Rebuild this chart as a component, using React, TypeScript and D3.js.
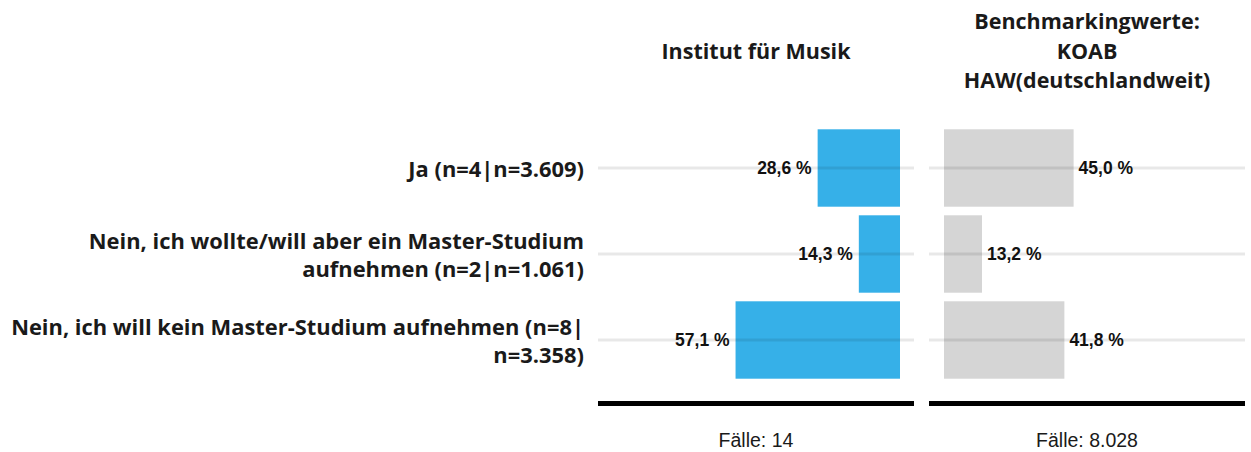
import React from "react";
import * as d3 from "d3";

const categories = [
  ["Ja (n=4|n=3.609)"],
  ["Nein, ich wollte/will aber ein Master-Studium", "aufnehmen (n=2|n=1.061)"],
  ["Nein, ich will kein Master-Studium aufnehmen (n=8|", "n=3.358)"],
];
const instituteValues = [28.6, 14.3, 57.1];
const benchmarkValues = [45.0, 13.2, 41.8];
const panelTitles = [["Institut für Musik"], ["Benchmarkingwerte:", "KOAB", "HAW(deutschlandweit)"]];
const caseCounts = ["Fälle: 14", "Fälle: 8.028"];

const W = 1251;
const H = 452;
const fmt = (v: number) => v.toFixed(1).replace(".", ",") + " %";
const catFont = "'Open Sans', 'Noto Sans', sans-serif";
const numFont = "'Liberation Sans', Arial, sans-serif";

export default function App() {
  const keys = categories.map((_, i) => String(i));
  const y = d3.scaleBand<string>().domain(keys).range([125, 383]).paddingInner(0.1).paddingOuter(0.05);
  const leftPanel = [598, 914];
  const rightPanel = [929, 1245];
  const xLeft = d3.scaleLinear().domain([0, 100]).range([900, 612]);
  const xRight = d3.scaleLinear().domain([0, 100]).range([944, 1232]);
  const bw = y.bandwidth();

  return (
    <div style={{ position: "absolute", left: 0, top: 0 }}>
      <svg width={W} height={H} style={{ display: "block" }}>
        <rect width={W} height={H} fill="#fff" />
        {panelTitles.map((lines, p) => {
          const cx = p === 0 ? (leftPanel[0] + leftPanel[1]) / 2 : (rightPanel[0] + rightPanel[1]) / 2;
          const startY = p === 0 ? 50 : 20.5;
          return lines.map((t, j) => (
            <text key={`t${p}${j}`} x={cx} y={startY + j * 29.5} textAnchor="middle" dominantBaseline="central"
              fontFamily={catFont} fontWeight="bold" fontSize={21.5} fill="#1a1a1a">{t}</text>
          ));
        })}
        {categories.map((lines, i) => {
          const cy = (y(String(i)) as number) + bw / 2;
          const n = lines.length;
          return lines.map((t, j) => (
            <text key={`c${i}${j}`} x={584} y={cy + (j - (n - 1) / 2) * 28} textAnchor="end" dominantBaseline="central"
              fontFamily={catFont} fontWeight="bold" fontSize={21.9} fill="#1a1a1a">{t}</text>
          ));
        })}
        {instituteValues.map((v, i) => (
          <rect key={`lb${i}`} x={xLeft(v)} y={y(String(i))} width={xLeft(0) - xLeft(v)} height={bw} fill="#36b0e8" />
        ))}
        {benchmarkValues.map((v, i) => (
          <rect key={`rb${i}`} x={xRight(0)} y={y(String(i))} width={xRight(v) - xRight(0)} height={bw} fill="#d5d5d5" />
        ))}
        {keys.map((k) => {
          const cy = (y(k) as number) + bw / 2;
          return (
            <g key={`g${k}`}>
              <line x1={leftPanel[0]} x2={leftPanel[1]} y1={cy} y2={cy} stroke="#000" strokeOpacity={0.09} strokeWidth={3} />
              <line x1={rightPanel[0]} x2={rightPanel[1]} y1={cy} y2={cy} stroke="#000" strokeOpacity={0.09} strokeWidth={3} />
            </g>
          );
        })}
        {instituteValues.map((v, i) => (
          <text key={`lv${i}`} x={xLeft(v) - 6} y={(y(String(i)) as number) + bw / 2} textAnchor="end" dominantBaseline="central"
            fontFamily={numFont} fontWeight="bold" fontSize={17.5} fill="#111">{fmt(v)}</text>
        ))}
        {benchmarkValues.map((v, i) => (
          <text key={`rv${i}`} x={xRight(v) + 5} y={(y(String(i)) as number) + bw / 2} textAnchor="start" dominantBaseline="central"
            fontFamily={numFont} fontWeight="bold" fontSize={17.5} fill="#111">{fmt(v)}</text>
        ))}
        <line x1={leftPanel[0]} x2={leftPanel[1]} y1={403.5} y2={403.5} stroke="#000" strokeWidth={5} />
        <line x1={rightPanel[0]} x2={rightPanel[1]} y1={403.5} y2={403.5} stroke="#000" strokeWidth={5} />
        {caseCounts.map((t, p) => {
          const cx = p === 0 ? (leftPanel[0] + leftPanel[1]) / 2 : (rightPanel[0] + rightPanel[1]) / 2;
          return (
            <text key={`f${p}`} x={cx} y={440} textAnchor="middle" dominantBaseline="central"
              fontFamily={numFont} fontSize={19.5} fill="#1a1a1a">{t}</text>
          );
        })}
      </svg>
    </div>
  );
}
